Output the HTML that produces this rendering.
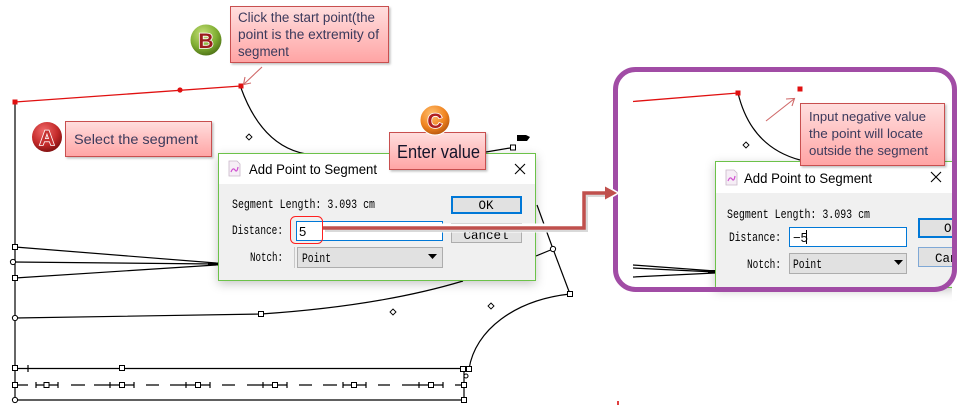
<!DOCTYPE html>
<html><head><meta charset="utf-8">
<style>
html,body{margin:0;padding:0;background:#fff;width:970px;height:417px;overflow:hidden}
svg{display:block}
.m{font-family:"Liberation Mono",monospace;font-size:12.5px;fill:#000}
.s{font-family:"Liberation Sans",sans-serif}
.ct{font-family:"Liberation Sans",sans-serif;fill:#3b3a5c}
</style></head><body>
<svg width="970" height="417" viewBox="0 0 970 417" xmlns="http://www.w3.org/2000/svg">
<defs>
<linearGradient id="pk" x1="0" y1="0" x2="0" y2="1">
<stop offset="0" stop-color="#ffdede"/><stop offset="1" stop-color="#ffa4a4"/>
</linearGradient>
<radialGradient id="gA" cx="0.4" cy="0.3" r="0.75">
<stop offset="0" stop-color="#f06a6a"/><stop offset="0.6" stop-color="#c42a2a"/><stop offset="1" stop-color="#7a0e0e"/>
</radialGradient>
<radialGradient id="gB" cx="0.4" cy="0.3" r="0.75">
<stop offset="0" stop-color="#c8e07a"/><stop offset="0.6" stop-color="#7fae32"/><stop offset="1" stop-color="#4a6e14"/>
</radialGradient>
<radialGradient id="gC" cx="0.4" cy="0.3" r="0.75">
<stop offset="0" stop-color="#ffc070"/><stop offset="0.6" stop-color="#f08420"/><stop offset="1" stop-color="#b0500a"/>
</radialGradient>
<filter id="sh" x="-10%" y="-15%" width="120%" height="135%">
<feDropShadow dx="0" dy="3" stdDeviation="5" flood-color="#000" flood-opacity="0.22"/>
</filter>
<filter id="sh2" x="-10%" y="-10%" width="125%" height="130%">
<feDropShadow dx="1.5" dy="1.5" stdDeviation="1" flood-color="#000" flood-opacity="0.25"/>
</filter>
</defs>

<!-- ===== LEFT CANVAS DRAWING ===== -->
<g fill="none" stroke="#000" stroke-width="1.2">
<line x1="15" y1="102" x2="15" y2="400"/>
<path d="M241,88 Q262,146 306,154"/>
<path d="M15,247 L216,263"/>
<path d="M13,262 L216,264"/>
<path d="M15,278 L216,265"/>
<path d="M15,318 L261,314 Q380,306 463,281"/>
<line x1="15" y1="368.5" x2="469" y2="368.5"/>
<line x1="15" y1="400" x2="464" y2="400"/>
<line x1="464" y1="369" x2="464" y2="400"/>
<path d="M469,369 C475,330 515,300 570,294"/>
<line x1="570" y1="294" x2="553" y2="249"/>
<line x1="553" y1="249" x2="537" y2="205"/>
<line x1="553" y1="249" x2="536" y2="256"/>
<line x1="486" y1="152" x2="513" y2="147.5"/>
<line x1="28" y1="365" x2="28" y2="372"/>
</g>
<rect x="208" y="262.5" width="10" height="3" fill="#000"/>
<!-- dashed row -->
<g fill="none" stroke="#000" stroke-width="1.2">
<path d="M15,385 H28 M36,385 H58 M71,385 H85 M94,385 H134 M146,385 H159 M170,385 H210 M222,385 H235 M247,385 H287 M299,385 H312 M323,385 H337 M343,385 H366 M378,385 H390 M402,385 H443 M455,385 H464"/>
<path d="M36,382 V388 M58,382 V388 M110,382 V388 M134,382 V388 M186,382 V388 M210,382 V388 M263,382 V388 M287,382 V388 M343,382 V388 M366,382 V388 M419,382 V388 M443,382 V388"/>
</g>
<g fill="#fff" stroke="#000" stroke-width="1">
<rect x="44" y="382.5" width="5" height="5"/>
<rect x="119.5" y="382.5" width="5" height="5"/>
<rect x="195.5" y="382.5" width="5" height="5"/>
<rect x="272.5" y="382.5" width="5" height="5"/>
<rect x="351.5" y="382.5" width="5" height="5"/>
<rect x="428.5" y="382.5" width="5" height="5"/>
<rect x="461.5" y="382.5" width="5" height="5"/>
<rect x="12.5" y="382.5" width="5" height="5"/>
<rect x="12.5" y="365.5" width="5" height="5"/>
<rect x="119.5" y="365.5" width="5" height="5"/>
<rect x="460.5" y="366.5" width="5" height="5"/>
<rect x="466.5" y="366.5" width="5" height="5"/>
<rect x="461.5" y="397.5" width="5" height="5"/>
<rect x="12.5" y="244.5" width="5" height="5"/>
<rect x="12.5" y="275.5" width="5" height="5"/>
<rect x="258.5" y="311.5" width="5" height="5"/>
<rect x="567.5" y="291.5" width="5" height="5"/>
<rect x="510.5" y="145" width="5" height="5"/>
<circle cx="13" cy="262" r="2.6"/>
<circle cx="15" cy="318" r="2.6"/>
<circle cx="15" cy="400" r="2.6"/>
<circle cx="553" cy="249" r="2.6"/>
<circle cx="466" cy="376" r="2"/>
</g>
<g fill="#fff" stroke="#000" stroke-width="0.9">
<polygon points="249,134 252,137 249,140 246,137"/>
<polygon points="393,309 396,312 393,315 390,312"/>
<polygon points="491,303 494,306 491,309 488,306"/>
</g>
<polygon points="517,135 526,135 530,137 527,141 517,141" fill="#000"/>
<!-- red segment -->
<line x1="15" y1="102" x2="241" y2="86" stroke="#e01010" stroke-width="1.3"/>
<rect x="12.5" y="99.5" width="5" height="5" fill="#e01010"/>
<rect x="238.5" y="83.5" width="5" height="5" fill="#e01010"/>
<circle cx="180" cy="90" r="2.6" fill="#e01010"/>
<rect x="617" y="401" width="2" height="4" fill="#e04040"/>

<!-- ===== LEFT DIALOG ===== -->
<g filter="url(#sh)"><rect x="218.5" y="153.5" width="317" height="127" fill="#f0f0f0" stroke="#6cc24a"/></g>
<rect x="219" y="154" width="316" height="30" fill="#fff"/>
<g>
<path d="M229,161 h8 l3,3 v12 h-11 z" fill="#f6eef6" stroke="#c9b7c9" stroke-width="0.8"/>
<path d="M231,172 q2,-5 4,-2 q2,3 3,-3" fill="none" stroke="#d050d0" stroke-width="1.2"/>
</g>
<text x="249" y="174" class="s" font-size="14" fill="#000" textLength="128" lengthAdjust="spacingAndGlyphs">Add Point to Segment</text>
<path d="M515,164 L525,174 M525,164 L515,174" stroke="#000" stroke-width="1.1"/>
<text x="232" y="208" class="m" textLength="143" lengthAdjust="spacingAndGlyphs">Segment Length: 3.093 cm</text>
<rect x="452" y="197" width="69" height="16" fill="#e1e1e1" stroke="#0078d7" stroke-width="2"/>
<text x="486" y="209" class="m" text-anchor="middle">OK</text>
<rect x="451.5" y="223.5" width="70" height="19" fill="#e1e1e1" stroke="#adadad"/>
<text x="486" y="239" class="m" text-anchor="middle">Cancel</text>
<text x="232" y="234" class="m" textLength="51" lengthAdjust="spacingAndGlyphs">Distance:</text>
<rect x="296.5" y="221.5" width="146" height="19" fill="#fff" stroke="#0078d7"/>
<text x="299" y="236" class="s" font-size="13" fill="#000">5</text>
<text x="250" y="261" class="m" textLength="33" lengthAdjust="spacingAndGlyphs">Notch:</text>
<rect x="297.5" y="247.5" width="145" height="20" fill="#e1e1e1" stroke="#adadad"/>
<line x1="294.5" y1="247" x2="294.5" y2="268" stroke="#c8c8c8"/>
<text x="302" y="262" class="m" textLength="29" lengthAdjust="spacingAndGlyphs">Point</text>
<polygon points="428,254 437,254 432.5,259" fill="#000"/>
<rect x="290.5" y="216.5" width="32" height="27" rx="5" fill="none" stroke="#ff2020" stroke-width="1"/>

<!-- ===== RIGHT PANEL ===== -->
<g fill="none" stroke="#000" stroke-width="1.2">
<path d="M738,93 Q751,147 800,160"/>
<path d="M633,265 L715,271 M633,268 L715,272 M633,277 L715,273"/>
</g>
<rect x="708" y="270" width="8" height="3" fill="#000"/>
<polygon points="746,142 749,145 746,148 743,145" fill="#fff" stroke="#000" stroke-width="0.9"/>
<line x1="633" y1="101.5" x2="738" y2="93" stroke="#e01010" stroke-width="1.3"/>
<rect x="735.5" y="90.5" width="5" height="5" fill="#e01010"/>
<rect x="797.5" y="86.5" width="5" height="5" fill="#e01010"/>
<!-- right dialog -->
<g filter="url(#sh)"><rect x="715.5" y="161.5" width="240" height="126" fill="#f0f0f0" stroke="#6cc24a"/></g>
<rect x="716" y="162" width="240" height="31" fill="#fff"/>
<g>
<path d="M726,170 h8 l3,3 v12 h-11 z" fill="#f6eef6" stroke="#c9b7c9" stroke-width="0.8"/>
<path d="M728,181 q2,-5 4,-2 q2,3 3,-3" fill="none" stroke="#d050d0" stroke-width="1.2"/>
</g>
<text x="744" y="183" class="s" font-size="14" fill="#000" textLength="128" lengthAdjust="spacingAndGlyphs">Add Point to Segment</text>
<path d="M931,172 L941,182 M941,172 L931,182" stroke="#000" stroke-width="1.1"/>
<text x="727" y="218" class="m" textLength="143" lengthAdjust="spacingAndGlyphs">Segment Length: 3.093 cm</text>
<text x="729" y="241" class="m" textLength="52" lengthAdjust="spacingAndGlyphs">Distance:</text>
<rect x="789.5" y="227.5" width="117" height="19" fill="#fff" stroke="#0078d7"/>
<text x="793" y="242" class="s" font-size="13" fill="#000">−5</text>
<line x1="806.5" y1="230" x2="806.5" y2="244" stroke="#000" stroke-width="1"/>
<text x="747" y="268" class="m" textLength="34" lengthAdjust="spacingAndGlyphs">Notch:</text>
<rect x="789.5" y="253.5" width="117" height="20" fill="#e1e1e1" stroke="#adadad"/>
<text x="793" y="268" class="m" textLength="29" lengthAdjust="spacingAndGlyphs">Point</text>
<polygon points="894,260 903,260 898.5,265" fill="#000"/>
<rect x="919" y="219" width="40" height="18" fill="#e1e1e1" stroke="#0078d7" stroke-width="2"/>
<text x="944" y="232" class="m">OK</text>
<rect x="918.5" y="247.5" width="40" height="19" fill="#e1e1e1" stroke="#7fa8d6"/>
<text x="935" y="262" class="m">Cancel</text>
<!-- clip outside panel -->
<rect x="952" y="60" width="20" height="240" fill="#fff"/>
<!-- purple frame -->
<rect x="615.5" y="69.5" width="339" height="220" rx="20" fill="none" stroke="#a14ca5" stroke-width="5"/>

<!-- thin callout arrows -->
<g stroke="#d06868" stroke-width="1.1" fill="none">
<line x1="262" y1="67" x2="244" y2="84"/>
<path d="M245,77 L243.5,84.5 L251,83"/>
<line x1="766" y1="121" x2="794" y2="99"/>
<path d="M786,99 L794.5,98.5 L792,106"/>
</g>

<!-- ===== CALLOUTS ===== -->
<g filter="url(#sh2)">
<rect x="65.5" y="121.5" width="146" height="35" fill="url(#pk)" stroke="#c85050"/>
<rect x="230.5" y="6.5" width="158" height="56" fill="url(#pk)" stroke="#c85050"/>
<rect x="389.5" y="132.5" width="96" height="37" fill="url(#pk)" stroke="#c85050"/>
<rect x="800.5" y="103.5" width="144" height="62" fill="url(#pk)" stroke="#c85050"/>
</g>
<text x="74" y="144" class="ct" font-size="14" textLength="124" lengthAdjust="spacingAndGlyphs">Select the segment</text>
<text x="238" y="22" class="ct" font-size="13.5" textLength="137" lengthAdjust="spacingAndGlyphs">Click the start point(the</text>
<text x="238" y="39" class="ct" font-size="13.5" textLength="141" lengthAdjust="spacingAndGlyphs">point is the extremity of</text>
<text x="238" y="56" class="ct" font-size="13.5" textLength="51" lengthAdjust="spacingAndGlyphs">segment</text>
<text x="397" y="158" class="s" font-size="18" fill="#14142a" textLength="83" lengthAdjust="spacingAndGlyphs">Enter value</text>
<text x="809" y="121" class="ct" font-size="13" textLength="117" lengthAdjust="spacingAndGlyphs">Input negative value</text>
<text x="809" y="138" class="ct" font-size="13" textLength="114" lengthAdjust="spacingAndGlyphs">the point will locate</text>
<text x="809" y="155" class="ct" font-size="13" textLength="119" lengthAdjust="spacingAndGlyphs">outside the segment</text>

<!-- badges -->
<circle cx="47" cy="137" r="15" fill="url(#gA)"/>
<text x="47" y="145" text-anchor="middle" class="s" font-size="21" font-weight="bold" fill="#c53030" stroke="#fff" stroke-width="1.6" paint-order="stroke">A</text>
<circle cx="206" cy="40" r="15.5" fill="url(#gB)"/>
<text x="206" y="48" text-anchor="middle" class="s" font-size="21" font-weight="bold" fill="#9a1c1c" stroke="#fff" stroke-width="1.6" paint-order="stroke">B</text>
<circle cx="435" cy="120" r="15" fill="url(#gC)" stroke="#fff" stroke-width="1"/>
<text x="435" y="128" text-anchor="middle" class="s" font-size="21" font-weight="bold" fill="#b02020" stroke="#fff" stroke-width="1.6" paint-order="stroke">C</text>

<!-- ===== BIG ARROW ===== -->
<path d="M323,228 H584 V193 H606" fill="none" stroke="#fff" stroke-width="9"/>
<polygon points="603,183 620,193 603,203" fill="#fff"/>
<path d="M325,230.5 H586.5 V195.5 H606" fill="none" stroke="#000" stroke-opacity="0.15" stroke-width="3"/>
<path d="M323,228 H584 V193 H606" fill="none" stroke="#c0504d" stroke-width="3.5"/>
<polygon points="605,186.5 617,193 605,199.5" fill="#c0504d"/>
</svg>
</body></html>
